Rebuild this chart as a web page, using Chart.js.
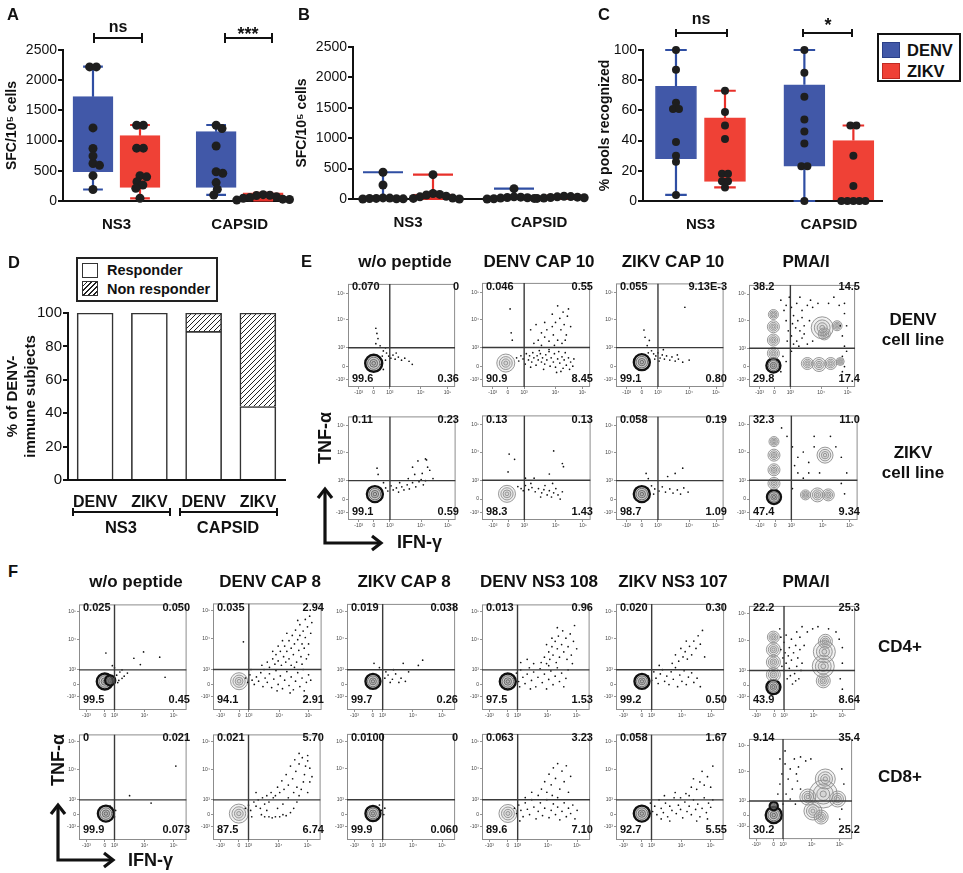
<!DOCTYPE html>
<html><head><meta charset="utf-8">
<script src="https://cdn.jsdelivr.net/npm/chart.js@4.4.1/dist/chart.umd.min.js"></script>
<style>
html,body{margin:0;padding:0;background:#fff;}
#root{position:relative;width:963px;height:873px;overflow:hidden;font-family:'Liberation Sans',Arial,Helvetica,sans-serif;color:#111;background:#fff;}
.c{position:absolute;}
.t{position:absolute;white-space:nowrap;}
</style></head>
<body><div id="root">
<svg width="963" height="873" style="position:absolute;left:0;top:0;pointer-events:none">
 <g stroke="#111" stroke-width="3.2" fill="none" stroke-linejoin="miter">
  <path d="M325 489 V543 H381"/><path d="M318 498 L325 489 L332 498"/><path d="M372 536 L381 543 L372 550"/>
  <path d="M58 805 V860 H113"/><path d="M51 814 L58 805 L65 814"/><path d="M104 853 L113 860 L104 867"/>
 </g>
</svg>
</div>
<script>
// ---------------- DATA ----------------
const GROUPS = ['NS3', 'CAPSID'];
const SERIES = ['DENV', 'ZIKV'];

// Panel A: SFC/10^5 cells, individual donors
const A_DENV_NS3 = [2220, 2220, 1210, 870, 745, 620, 590, 420, 190];
const A_ZIKV_NS3 = [1255, 1255, 875, 875, 420, 400, 320, 265, 210, 45];
const A_DENV_CAPSID = [1255, 1200, 910, 485, 460, 305, 195, 100];
const A_ZIKV_CAPSID = [105, 90, 70, 45, 25, 15, 30, 60, 95];
// box summaries [min, q1, q3, max]
const A_BOX_DENV_NS3 = [190, 486, 1727, 2224];
const A_BOX_ZIKV_NS3 = [45, 226, 1082, 1258];
const A_BOX_DENV_CAPSID = [100, 226, 1148, 1258];
const A_BOX_ZIKV_CAPSID = [10, 12, 135, 135];

// Panel B
const B_DENV_NS3 = [440, 230, 18, 10, 5, 0, 3, 8, 15];
const B_ZIKV_NS3 = [400, 90, 75, 45, 15, 0, 10, 35, 65];
const B_DENV_CAPSID = [170, 30, 20, 10, 0, 5, 15, 25, 35];
const B_ZIKV_CAPSID = [40, 30, 20, 10, 5, 15, 25, 35, 45];
const B_BOX_DENV_NS3 = [0, 0, 20, 440];
const B_BOX_ZIKV_NS3 = [0, 0, 80, 400];
const B_BOX_DENV_CAPSID = [0, 0, 25, 170];
const B_BOX_ZIKV_CAPSID = [0, 0, 30, 50];

// Panel C: % pools recognized
const C_DENV_NS3 = [100, 87, 65, 61, 61, 39, 30, 26, 4];
const C_ZIKV_NS3 = [73, 59, 50, 41, 18, 18, 13, 13, 9];
const C_DENV_CAPSID = [100, 85, 69, 54, 46, 38, 23, 23, 0];
const C_ZIKV_CAPSID = [50, 50, 30, 10, 0, 0, 0, 0, 0];
const C_BOX_DENV_NS3 = [4, 28, 76, 100];
const C_BOX_ZIKV_NS3 = [9, 13, 55, 73];
const C_BOX_DENV_CAPSID = [0, 23, 77, 100];
const C_BOX_ZIKV_CAPSID = [0, 0, 40, 50];

// Panel D: % of DENV-immune subjects
const D_LABELS = ['DENV', 'ZIKV', 'DENV', 'ZIKV'];
const D_RESPONDER = [100, 100, 89, 44];
const D_NONRESPONDER = [0, 0, 11, 56];

// Flow cytometry panels (display coordinates 0-100 on the logicle axes)
const FLOW_TICK_LABELS = ['-10³', '0', '10³', '10⁴', '10⁵'];
const E_TITLES = ['w/o peptide', 'DENV CAP 10', 'ZIKV CAP 10', 'PMA/I'];
const E_ROWS = [['DENV', 'cell line'], ['ZIKV', 'cell line']];
const E_QUADS = [ // [UL, UR, LL, LR]
  ['0.070', '0', '99.6', '0.36'], ['0.046', '0.55', '90.9', '8.45'], ['0.055', '9.13E-3', '99.1', '0.80'], ['38.2', '14.5', '29.8', '17.4'],
  ['0.11', '0.23', '99.1', '0.59'], ['0.13', '0.13', '98.3', '1.43'], ['0.058', '0.19', '98.7', '1.09'], ['32.3', '11.0', '47.4', '9.34']
];
const F_TITLES = ['w/o peptide', 'DENV CAP 8', 'ZIKV CAP 8', 'DENV NS3 108', 'ZIKV NS3 107', 'PMA/I'];
const F_ROWS = ['CD4+', 'CD8+'];
const F_QUADS = [
  ['0.025', '0.050', '99.5', '0.45'], ['0.035', '2.94', '94.1', '2.91'], ['0.019', '0.038', '99.7', '0.26'], ['0.013', '0.96', '97.5', '1.53'], ['0.020', '0.30', '99.2', '0.50'], ['22.2', '25.3', '43.9', '8.64'],
  ['0', '0.021', '99.9', '0.073'], ['0.021', '5.70', '87.5', '6.74'], ['0.0100', '0', '99.9', '0.060'], ['0.063', '3.23', '89.6', '7.10'], ['0.058', '1.67', '92.7', '5.55'], ['9.14', '35.4', '30.2', '25.2']
];
// contour clusters [x, y, radiusPx, dark]
const E_CLUSTERS = [
  [[24, 23, 8.5, 1]],
  [[22, 23, 9, 0]],
  [[24, 24, 8, 1]],
  [[23, 21, 7, 1], [23, 33, 6, 0], [23, 46, 6, 0], [23, 59, 6, 0], [23, 71, 5, 0], [55, 23, 6, 0], [66, 22, 7, 0], [77, 23, 6, 0], [86, 25, 4, 0], [69, 58, 11, 0], [71, 52, 6, 0], [83, 60, 5, 0]],
  [[25, 25, 8, 1]],
  [[23, 25, 8.5, 0]],
  [[24, 25, 8, 1]],
  [[23, 22, 7, 1], [23, 35, 6, 0], [23, 48, 6, 0], [23, 62, 6, 0], [23, 75, 5, 0], [70, 62, 8, 0], [52, 24, 5, 0], [63, 24, 7, 0], [73, 24, 6, 0]]
];
const F_CLUSTERS = [
  [[24, 27, 8, 1], [29, 28, 5, 1]],
  [[24, 27, 8.5, 0]],
  [[24, 27, 7.5, 1]],
  [[24, 27, 8, 1]],
  [[24, 27, 7.5, 1]],
  [[23, 22, 7, 1], [23, 34, 7, 0], [23, 46, 7, 0], [23, 58, 7, 0], [23, 70, 6, 0], [70, 28, 7, 0], [70, 42, 11, 0], [71, 56, 11, 0], [72, 66, 7, 0]],
  [[25, 25, 8, 1]],
  [[24, 25, 9.5, 0]],
  [[24, 25, 7.5, 1]],
  [[24, 25, 9, 0]],
  [[24, 25, 8, 1]],
  [[24, 24, 8, 1], [24, 33, 4, 1], [62, 28, 9, 0], [72, 45, 14, 0], [74, 60, 10, 0], [57, 42, 8, 0], [86, 40, 8, 0], [70, 22, 7, 0]]
];
// events outside the main cluster [x, y]
const E_DOTS = [
  [[27,52],[28,47],[26,42],[30,40],[33,35],[36,33],[38,30],[40,28],[42,31],[44,27],[47,29],[50,26],[53,28],[57,25],[35,26],[32,30],[31,22],[33,17],[30,28],[35,38],[45,33],[60,22],[26,57]],
  [[32,28],[34,25],[36,30],[38,27],[40,22],[41,32],[43,26],[44,30],[46,24],[47,33],[48,28],[50,21],[51,30],[52,26],[54,32],[55,24],[56,28],[58,22],[59,31],[60,26],[62,34],[63,20],[64,28],[66,24],[67,32],[68,19],[70,27],[71,34],[72,23],[74,29],[75,18],[76,26],[77,33],[78,21],[80,28],[81,17],[82,24],[84,20],[85,27],[73,15],[69,14],[57,17],[45,19],[62,36],[53,35],[48,42],[52,45],[55,40],[58,48],[60,55],[62,44],[65,58],[66,50],[68,62],[70,45],[72,66],[73,55],[75,72],[76,60],[78,50],[79,68],[80,75],[70,78],[65,70],[58,62],[55,52],[82,58],[74,42],[67,40],[77,45],[26,75],[27,52],[28,45],[50,60],[45,55]],
  [[29,40],[31,45],[27,48],[26,55],[33,35],[35,32],[37,30],[39,33],[41,28],[43,31],[45,27],[47,30],[50,26],[52,29],[55,25],[58,27],[62,24],[68,26],[44,36],[36,27],[30,33],[57,31],[64,77],[40,25]],
  [[30,85],[35,80],[40,78],[45,82],[50,75],[55,80],[60,78],[75,82],[85,80],[90,72],[42,70],[46,65],[50,68],[44,58],[48,55],[52,60],[40,50],[45,45],[50,48],[55,42],[42,42],[60,45],[88,50],[90,40],[88,30],[92,35],[86,60],[35,65],[37,55],[36,45],[33,75],[38,88],[58,85],[65,82],[48,88],[52,52],[47,40],[41,62],[57,65],[90,20],[88,15],[40,35],[32,30],[35,25],[30,15],[92,60],[90,82],[80,88]],
  [[27,50],[28,44],[33,36],[35,31],[37,28],[40,33],[42,29],[45,31],[47,27],[50,32],[52,29],[55,34],[57,30],[60,36],[63,32],[66,37],[68,39],[70,34],[72,38],[60,51],[65,57],[73,58],[74,51],[76,48],[72,59],[69,45],[62,44],[56,40],[48,36],[79,40]],
  [[25,63],[30,58],[24,46],[66,66],[74,54],[75,51],[33,32],[36,30],[38,28],[40,33],[43,29],[46,31],[49,27],[52,30],[55,26],[57,29],[60,24],[62,28],[64,22],[66,26],[68,30],[70,24],[72,20],[74,27],[45,35],[58,33],[65,35],[54,22],[48,40],[62,44],[40,40]],
  [[30,40],[33,33],[36,30],[40,28],[43,32],[46,27],[50,30],[53,26],[57,29],[60,25],[63,31],[67,27],[48,42],[55,45],[62,50],[35,25],[28,45]],
  [[40,70],[45,60],[50,65],[55,55],[60,70],[80,70],[85,60],[45,45],[50,40],[85,35],[88,25],[40,30],[35,80],[60,80],[75,80],[42,52],[55,45],[90,45],[30,88],[65,45]]
];
const F_DOTS = [
  [[25,54],[51,49],[60,55],[57,43],[75,50],[80,31],[35,33],[38,36],[40,30],[37,28],[42,32],[45,35],[33,40],[36,26],[40,38],[31,42]],
  [[30,30],[32,26],[34,33],[36,28],[38,24],[40,31],[42,27],[44,35],[46,22],[48,30],[50,26],[52,34],[54,21],[56,29],[58,37],[60,24],[62,32],[64,20],[66,28],[68,36],[70,23],[72,31],[74,19],[76,27],[78,35],[80,22],[82,30],[84,18],[86,26],[88,33],[35,38],[47,38],[59,18],[71,16],[83,38],[90,28],[45,42],[50,45],[52,40],[55,48],[57,43],[58,52],[60,46],[62,55],[63,42],[65,50],[66,60],[67,45],[68,55],[70,65],[70,48],[72,58],[73,70],[74,52],[75,62],[76,75],[77,45],[78,66],[79,56],[80,80],[80,70],[81,50],[82,62],[83,74],[84,58],[85,85],[85,68],[86,48],[87,78],[88,62],[89,88],[90,72],[72,42],[64,65],[68,72],[60,60],[55,55],[75,40],[82,43],[88,52],[91,82],[78,84],[28,64]],
  [[25,44],[43,38],[52,44],[57,36],[66,42],[70,47],[50,30],[54,27],[42,29],[38,33],[35,30],[33,38],[36,36],[40,26],[30,40],[45,34],[48,26]],
  [[30,30],[32,35],[34,27],[36,38],[38,31],[40,25],[42,34],[44,40],[46,28],[48,36],[50,22],[52,31],[54,39],[56,26],[58,34],[60,20],[62,29],[64,37],[66,24],[68,32],[70,40],[72,27],[74,35],[76,22],[78,30],[80,38],[36,45],[42,48],[48,44],[35,22],[45,20],[62,42],[55,45],[58,50],[60,44],[62,55],[63,48],[65,60],[66,52],[68,65],[69,45],[70,58],[71,70],[72,50],[74,62],[75,75],[76,55],[78,68],[79,48],[80,60],[82,72],[83,52],[85,65],[86,80],[70,78],[65,68],[60,62],[88,58],[84,44]],
  [[30,32],[33,28],[35,36],[37,30],[39,25],[41,34],[43,38],[45,27],[47,32],[49,24],[51,36],[53,29],[55,40],[57,22],[59,33],[61,27],[63,37],[65,24],[67,31],[70,35],[72,26],[75,30],[78,22],[40,42],[52,44],[58,46],[62,50],[64,55],[66,48],[68,60],[70,52],[72,65],[74,58],[76,70],[78,62],[80,75],[65,65],[60,58],[82,50],[55,52]],
  [[30,70],[33,65],[35,72],[38,60],[40,68],[42,55],[44,62],[46,50],[48,58],[32,50],[35,45],[38,40],[40,48],[43,35],[45,42],[47,30],[36,30],[33,38],[41,25],[48,70],[50,45],[52,62],[55,75],[60,78],[65,80],[75,78],[82,75],[88,60],[88,45],[86,30],[88,20],[30,58],[34,55],[37,52],[45,75],[50,80],[31,42],[39,33],[44,28],[49,38],[29,78],[85,68]],
  [[90,70],[47,42],[67,35],[30,30],[32,26],[33,22],[29,32],[34,28]],
  [[30,30],[33,33],[35,28],[38,36],[40,32],[42,38],[44,30],[46,40],[48,34],[50,42],[52,36],[54,45],[56,40],[45,24],[48,22],[52,22],[55,21],[58,22],[62,22],[65,24],[68,23],[72,26],[75,30],[78,36],[80,42],[82,48],[84,55],[85,62],[86,70],[88,75],[83,78],[80,72],[77,65],[74,58],[70,52],[66,48],[62,45],[58,42],[60,50],[64,56],[68,62],[72,70],[76,76],[80,82],[88,80],[90,68],[90,55],[78,50],[70,40],[60,30],[36,22],[50,28],[65,34],[40,45],[88,45],[92,60],[75,45]],
  [[32,28],[34,24],[30,33],[28,20],[35,30]],
  [[30,30],[32,25],[34,33],[36,28],[38,22],[40,35],[42,29],[44,24],[46,38],[48,31],[50,20],[52,27],[54,35],[56,23],[58,30],[60,38],[62,21],[64,28],[66,34],[68,24],[70,31],[72,19],[74,27],[76,35],[78,22],[80,30],[82,25],[84,33],[86,20],[52,42],[55,48],[58,55],[60,45],[62,62],[64,52],[66,68],[68,58],[70,72],[72,48],[74,65],[76,55],[78,70],[80,45],[82,60],[70,40],[65,42],[46,45],[40,40],[88,28],[35,18]],
  [[30,30],[32,35],[34,27],[36,32],[38,24],[40,38],[42,30],[44,26],[46,35],[48,22],[50,32],[52,28],[54,40],[56,25],[58,33],[60,29],[62,21],[64,36],[66,27],[68,32],[70,24],[72,38],[74,29],[76,34],[78,22],[80,30],[82,40],[84,26],[86,35],[88,31],[90,38],[85,20],[45,42],[55,45],[65,44],[70,50],[75,48],[78,55],[82,52],[85,60],[88,50],[80,65],[72,58],[90,70],[68,42],[60,40],[50,18],[42,20],[75,18]],
  [[30,55],[32,65],[35,75],[38,60],[40,70],[42,50],[44,80],[36,45],[40,40],[45,35],[33,35],[47,58],[48,72],[50,82],[55,78],[60,80],[90,70],[92,55],[90,30],[88,20],[30,80],[35,88],[28,45],[50,50],[46,65]]
];

// ---------------- LAYOUT / STYLE ----------------
Chart.defaults.font.family = "'Liberation Sans', Arial, Helvetica, sans-serif";
Chart.defaults.color = '#111';
const FILL = ['#4158a8', '#ef4136'];
const LINE = ['#2f4ea3', '#e8302a'];
const BOX_POS = [1, 2, 3.62, 4.62];
const GROUP_POS = [1.5, 4.12];
const root = document.getElementById('root');

function mkCanvas(l, t, w, h) {
  const d = document.createElement('div'); d.className = 'c';
  Object.assign(d.style, {left: l + 'px', top: t + 'px', width: w + 'px', height: h + 'px'});
  const c = document.createElement('canvas'); d.appendChild(c); root.appendChild(d); return c;
}
function txt(s, x, base, size, align, weight) {
  const d = document.createElement('div'); d.className = 't'; d.textContent = s;
  d.style.fontSize = size + 'px'; d.style.lineHeight = size + 'px'; d.style.fontWeight = weight || 'bold';
  d.style.left = x + 'px'; d.style.top = (base - 0.8465 * size) + 'px';
  if (align === 'center') d.style.transform = 'translateX(-50%)';
  else if (align === 'right') d.style.transform = 'translateX(-100%)';
  root.appendChild(d); return d;
}
function rect(l, t, w, h, css) {
  const d = document.createElement('div'); d.className = 'c';
  Object.assign(d.style, {left: l + 'px', top: t + 'px', width: w + 'px', height: h + 'px', boxSizing: 'border-box'}, css || {});
  root.appendChild(d); return d;
}
function bracket(x1, x2, y, h1, h2, w) {
  rect(x1, y - w / 2, x2 - x1, w, {background: '#111'});
  rect(x1 - w / 2, y - h1, w, h1 + h2, {background: '#111'});
  rect(x2 - w / 2, y - h1, w, h1 + h2, {background: '#111'});
}
// beeswarm layout of dots (horizontal offsets only)
function swarm(vals, yPx, xPx, r) {
  const d = 1.5 * r, placed = [], out = new Array(vals.length);
  const order = vals.map((v, i) => i).sort((a, b) => vals[b] - vals[a]);
  for (const i of order) {
    const py = vals[i] * yPx, cands = [0];
    for (const p of placed) { const dy = py - p.py; if (Math.abs(dy) < d) { const dx = Math.sqrt(d * d - dy * dy); cands.push(p.dx + dx, p.dx - dx); } }
    cands.sort((a, b) => Math.abs(a) - Math.abs(b));
    let best = 0;
    for (const c of cands) { if (placed.every(p => (c - p.dx) ** 2 + (py - p.py) ** 2 >= d * d - 1e-6)) { best = c; break; } }
    placed.push({dx: best, py}); out[i] = best;
  }
  // centre rows of identical values
  const seen = {};
  vals.forEach((v, i) => { (seen[v] = seen[v] || []).push(i); });
  Object.values(seen).forEach(ix => { if (ix.length > 1) { const m = ix.reduce((s, i) => s + out[i], 0) / ix.length; ix.forEach(i => { out[i] -= m; }); } });
  return out.map(o => o / xPx);
}

function boxPanel(p) {
  const cv = mkCanvas(p.left, p.top, p.w, p.h);
  const a = p.area;
  const yPx = (a.b - a.t) / p.ymax, xPx = (a.r - a.l) / (p.xmax - p.xmin);
  const ds = [];
  SERIES.forEach((s, si) => {
    const items = p.items.filter(it => it.s === si);
    ds.push({type: 'bar', data: items.map(it => ({x: it.pos, y: [it.box[1], it.box[2]]})), backgroundColor: FILL[si], borderColor: FILL[si],
      borderWidth: 1, borderSkipped: false, barThickness: p.bw, grouped: false, order: 3});
    const wd = [];
    items.forEach(it => {
      const [mn, q1, q3, mx] = it.box, x = it.pos, c = p.cap;
      wd.push({x, y: mn}, {x, y: q1}, {x, y: null}, {x, y: q3}, {x, y: mx}, {x, y: null},
        {x: x - c, y: mx}, {x: x + c, y: mx}, {x, y: null}, {x: x - c, y: mn}, {x: x + c, y: mn}, {x, y: null});
    });
    ds.push({type: 'scatter', data: wd, showLine: true, spanGaps: false, borderColor: LINE[si], borderWidth: 2.2, pointRadius: 0, clip: false, order: 2});
  });
  p.items.forEach(it => {
    const off = swarm(it.vals, yPx, xPx, p.r);
    ds.push({type: 'scatter', data: it.vals.map((v, i) => ({x: it.pos + off[i], y: v})), pointRadius: p.r,
      backgroundColor: '#1e1e1e', borderColor: '#1e1e1e', borderWidth: 0, clip: false, order: 1});
  });
  new Chart(cv, {type: 'bar', data: {datasets: ds}, options: {
    animation: false, responsive: true, maintainAspectRatio: false, events: [],
    layout: {padding: {top: a.t, right: p.w - a.r, left: 0, bottom: 0}},
    plugins: {legend: {display: false}, tooltip: {enabled: false}},
    scales: {
      x: {type: 'linear', min: p.xmin, max: p.xmax, offset: false,
        afterFit: s => { s.height = p.h - a.b; },
        afterBuildTicks: s => { s.ticks = GROUP_POS.map(v => ({value: v})); },
        ticks: {callback: (v, i) => GROUPS[i], font: {size: 15, weight: 'bold'}, color: '#111', padding: 7, autoSkip: false, maxRotation: 0},
        grid: {display: false}, border: {display: true, color: '#111', width: 2}},
      y: {min: 0, max: p.ymax, afterFit: s => { s.width = a.l; },
        ticks: {stepSize: p.step, font: {size: 14}, color: '#111', padding: 1, callback: v => String(v)},
        grid: {display: true, drawOnChartArea: false, drawTicks: true, tickLength: 5, color: '#111', lineWidth: 2},
        border: {display: true, color: '#111', width: 2},
        title: {display: true, text: p.title, font: {size: 14, weight: 'bold'}, color: '#111', padding: {top: 4, bottom: 0}}}
    }
  }});
}

function items(d1, d2, d3, d4, b1, b2, b3, b4) {
  return [
    {s: 0, pos: BOX_POS[0], vals: d1, box: b1}, {s: 1, pos: BOX_POS[1], vals: d2, box: b2},
    {s: 0, pos: BOX_POS[2], vals: d3, box: b3}, {s: 1, pos: BOX_POS[3], vals: d4, box: b4}
  ];
}

boxPanel({left: 0, top: 0, w: 300, h: 240, area: {l: 63, t: 50, r: 285, b: 201}, xmin: 0.362, xmax: 5.085, ymax: 2500, step: 500,
  title: 'SFC/10⁵ cells', bw: 40, r: 4.5, cap: 0.21,
  items: items(A_DENV_NS3, A_ZIKV_NS3, A_DENV_CAPSID, A_ZIKV_CAPSID, A_BOX_DENV_NS3, A_BOX_ZIKV_NS3, A_BOX_DENV_CAPSID, A_BOX_ZIKV_CAPSID)});
boxPanel({left: 290, top: 0, w: 300, h: 240, area: {l: 63, t: 47, r: 292, b: 199}, xmin: 0.4, xmax: 4.98, ymax: 2500, step: 500,
  title: 'SFC/10⁵ cells', bw: 40, r: 4.5, cap: 0.4,
  items: items(B_DENV_NS3, B_ZIKV_NS3, B_DENV_CAPSID, B_ZIKV_CAPSID, B_BOX_DENV_NS3, B_BOX_ZIKV_NS3, B_BOX_DENV_CAPSID, B_BOX_ZIKV_CAPSID)});
boxPanel({left: 593, top: 0, w: 300, h: 240, area: {l: 50, t: 50, r: 289, b: 201}, xmin: 0.327, xmax: 5.204, ymax: 100, step: 20,
  title: '% pools recognized', bw: 41, r: 4, cap: 0.22,
  items: items(C_DENV_NS3, C_ZIKV_NS3, C_DENV_CAPSID, C_ZIKV_CAPSID, C_BOX_DENV_NS3, C_BOX_ZIKV_NS3, C_BOX_DENV_CAPSID, C_BOX_ZIKV_CAPSID)});

// significance brackets + legend
bracket(94, 142, 38, 5, 5, 2); txt('ns', 118, 33, 16, 'center');
bracket(225, 272, 38, 5, 5, 2); txt('***', 248, 40, 18, 'center');
bracket(676, 727, 33, 4, 4, 2); txt('ns', 701, 25, 16, 'center');
bracket(803, 852, 33, 4, 4, 2); txt('*', 828, 31, 18, 'center');
rect(877, 33, 84, 49, {border: '2px solid #111', background: '#fff'});
rect(882, 42, 18, 16, {background: FILL[0], border: '1px solid #2a3f88'});
rect(882, 63, 18, 16, {background: FILL[1], border: '1px solid #c02a22'});
txt(SERIES[0], 907, 56, 16.5, 'left'); txt(SERIES[1], 907, 77, 16.5, 'left');

// Panel D
(function () {
  const pc = document.createElement('canvas'); pc.width = 5; pc.height = 5;
  const g = pc.getContext('2d'); g.fillStyle = '#fff'; g.fillRect(0, 0, 5, 5);
  g.strokeStyle = '#222'; g.lineWidth = 1;
  g.beginPath(); g.moveTo(-1, 6); g.lineTo(6, -1); g.moveTo(-1, 1); g.lineTo(1, -1); g.moveTo(4, 6); g.lineTo(6, 4); g.stroke();
  const hatch = g.createPattern(pc, 'repeat');
  const cv = mkCanvas(0, 240, 300, 270);
  new Chart(cv, {type: 'bar', data: {labels: D_LABELS, datasets: [
    {label: 'Responder', data: D_RESPONDER, backgroundColor: '#fff', borderColor: '#333', borderWidth: 1.6, barThickness: 36, stack: 's'},
    {label: 'Non responder', data: D_NONRESPONDER, backgroundColor: hatch, borderColor: '#333', borderWidth: 1.6, barThickness: 36, stack: 's'}
  ]}, options: {
    animation: false, responsive: true, maintainAspectRatio: false, events: [],
    layout: {padding: {top: 73, right: 15, left: 0, bottom: 0}},
    plugins: {legend: {display: false}, tooltip: {enabled: false}},
    scales: {
      x: {stacked: true, afterFit: s => { s.height = 30; }, ticks: {font: {size: 16, weight: 'bold'}, color: '#111', padding: 5},
        grid: {display: false}, border: {display: true, color: '#111', width: 2}},
      y: {stacked: true, min: 0, max: 100, afterFit: s => { s.width = 68; },
        ticks: {stepSize: 20, font: {size: 15}, color: '#111', padding: 1},
        grid: {display: true, drawOnChartArea: false, drawTicks: true, tickLength: 5, color: '#111', lineWidth: 2},
        border: {display: true, color: '#111', width: 2},
        title: {display: true, text: ['% of DENV-', 'immune subjects'], font: {size: 15, weight: 'bold'}, color: '#111', padding: {top: 4, bottom: 0}}}
    }
  }});
  rect(76, 257, 142, 45, {border: '2px solid #222', background: '#fff'});
  rect(82, 263, 16, 15, {border: '1.5px solid #333', background: '#fff'});
  rect(82, 281, 16, 15, {border: '1.5px solid #333', background: 'repeating-linear-gradient(135deg,#fff 0 2.2px,#222 2.2px 3.4px)'});
  txt('Responder', 107, 275, 14.5, 'left'); txt('Non responder', 107, 294, 14.5, 'left');
  bracket(73, 170, 512, 4, 4, 1.8); bracket(180, 277, 512, 4, 4, 1.8);
  txt(GROUPS[0], 121, 533, 16.5, 'center'); txt(GROUPS[1], 228, 533, 16.5, 'center');
})();

// Flow plots
const RING_F = [1, 0.72, 0.46, 0.22];
const framePlugin = {id: 'frame', beforeDatasetsDraw(chart) {
  const {ctx, chartArea: c} = chart; ctx.save(); ctx.strokeStyle = '#8c8c8c'; ctx.lineWidth = 1;
  ctx.strokeRect(c.left + 0.5, c.top + 0.5, c.right - c.left - 1, c.bottom - c.top - 1); ctx.restore();
}};
function flowPlot(L, T, H, ax, q, clusters, dots) {
  const W = 115, PL = 24, PB = 14, PT = 3, PR = 3;
  const cv = mkCanvas(L - PL, T - PT, W + PL + PR, H + PT + PB);
  const rings = [], bg = [], bc = [], bw = [];
  clusters.forEach(([x, y, r, dk]) => {
    RING_F.forEach((f, k) => {
      rings.push({x, y, r: r * f});
      if (dk) { bc.push(k === 0 ? '#111' : '#555'); bw.push(k === 0 ? 2.4 : 0.8); bg.push(k === 0 ? 'rgba(100,100,100,0.25)' : 'rgba(110,110,110,0.12)'); }
      else { bc.push('#8d8d8d'); bw.push(0.9); bg.push('rgba(160,160,160,0.14)'); }
    });
  });
  const axis = (tpos, fit) => ({type: 'linear', min: 0, max: 100,
    afterBuildTicks: s => { s.ticks = tpos.map(v => ({value: v})); }, afterFit: fit,
    ticks: {callback: (v, i) => FLOW_TICK_LABELS[i], font: {size: 5}, color: '#444', padding: 1, autoSkip: false, maxRotation: 0},
    grid: {display: true, drawOnChartArea: false, drawTicks: true, tickLength: 2, color: '#666', lineWidth: 0.7},
    border: {display: false}});
  new Chart(cv, {type: 'scatter', data: {datasets: [
    {type: 'scatter', data: [{x: ax.gx, y: 0}, {x: ax.gx, y: 100}, {x: ax.gx, y: null}, {x: 0, y: ax.gy}, {x: 100, y: ax.gy}],
      showLine: true, spanGaps: false, borderColor: '#3a3a3a', borderWidth: 1.4, pointRadius: 0, order: 0},
    {type: 'scatter', data: dots.map(([x, y]) => ({x, y})), pointRadius: 0.85, backgroundColor: '#111', borderWidth: 0, order: 1},
    {type: 'bubble', data: rings, backgroundColor: bg, borderColor: bc, borderWidth: bw, order: 2}
  ]}, options: {
    animation: false, responsive: true, maintainAspectRatio: false, events: [],
    layout: {padding: {top: PT, right: PR, left: 0, bottom: 0}},
    plugins: {legend: {display: false}, tooltip: {enabled: false}},
    scales: {x: axis(ax.xt, s => { s.height = PB; }), y: axis(ax.yt, s => { s.width = PL; })}
  }, plugins: [framePlugin]});
  txt(q[0], L + 4, T + 14, 11, 'left'); txt(q[1], L + W - 4, T + 14, 11, 'right');
  txt(q[2], L + 4, T + H - ax.nb, 11, 'left'); txt(q[3], L + W - 4, T + H - ax.nb, 11, 'right');
}
const E_AX = {xt: [10, 24, 39, 68, 93], yt: [7, 20, 38, 65, 91], gx: 39, gy: 38, nb: 5};
const F_AX = {xt: [7, 24, 33, 61, 88], yt: [13, 24, 38, 67, 93], gx: 33, gy: 38, nb: 7};
const E_LEFTS = [348, 482, 616, 749], E_TOPS = [276, 409];
const F_LEFTS = [79, 213, 347, 482, 616, 749], F_TOPS = [597, 727];
E_TOPS.forEach((t, r) => E_LEFTS.forEach((l, c) => { const k = r * 4 + c; flowPlot(l, t, 111, E_AX, E_QUADS[k], E_CLUSTERS[k], E_DOTS[k]); }));
F_TOPS.forEach((t, r) => F_LEFTS.forEach((l, c) => { const k = r * 6 + c; flowPlot(l, t, 113, F_AX, F_QUADS[k], F_CLUSTERS[k], F_DOTS[k]); }));

E_TITLES.forEach((s, i) => txt(s, E_LEFTS[i] + 57, 267, 17, 'center'));
F_TITLES.forEach((s, i) => txt(s, F_LEFTS[i] + 57, 587, 17, 'center'));
E_ROWS.forEach((r, i) => { txt(r[0], 913, 325 + 133 * i, 17, 'center'); txt(r[1], 913, 345 + 133 * i, 17, 'center'); });
F_ROWS.forEach((s, i) => txt(s, 900, 652 + 130 * i, 17, 'center'));
function rot(s, cx, cy, size) {
  const d = document.createElement('div'); d.className = 't'; d.textContent = s;
  Object.assign(d.style, {fontSize: size + 'px', lineHeight: size + 'px', fontWeight: 'bold', left: cx + 'px', top: cy + 'px', transform: 'translate(-50%,-50%) rotate(-90deg)'});
  root.appendChild(d);
}
rot('TNF-α', 325, 438, 18); rot('TNF-α', 58, 760, 18);
txt('IFN-γ', 397, 548, 18, 'left'); txt('IFN-γ', 128, 866, 18, 'left');

// panel letters
txt('A', 7, 20, 16.5, 'left'); txt('B', 298, 20, 16.5, 'left'); txt('C', 598, 20, 16.5, 'left');
txt('D', 8, 268, 16.5, 'left'); txt('E', 301, 267, 16.5, 'left'); txt('F', 8, 577, 16.5, 'left');
</script></body></html>
